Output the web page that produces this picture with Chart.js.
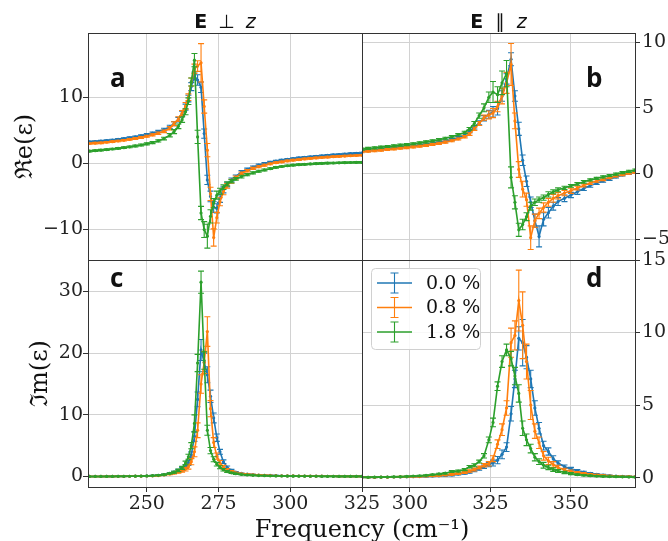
<!DOCTYPE html>
<html>
<head>
<meta charset="utf-8">
<script src="https://cdn.jsdelivr.net/npm/chart.js@4.4.1/dist/chart.umd.min.js"></script>
<style>
  body { margin: 0; background: #fff; }
  #wrap { position: relative; width: 668px; height: 541px; }
  canvas { position: absolute; left: 0; top: 0; }
</style>
</head>
<body>
<div id="wrap">
  <canvas id="panelA" width="668" height="541"></canvas>
  <canvas id="panelB" width="668" height="541"></canvas>
  <canvas id="panelC" width="668" height="541"></canvas>
  <canvas id="panelD" width="668" height="541"></canvas>
</div>
<script>
// ---- data: E perpendicular z (panels a, c) ----
const freqPerp = [230, 232, 234, 236, 238, 240, 242, 244, 246, 248, 250, 252, 254, 256, 258,
  259.5, 261, 262.3, 263.5, 264.5, 265.5, 266.6, 267.7, 268.9, 270, 271.1, 272.2, 273.3, 274.4, 275.5, 276.7, 278, 279.5, 281,
  283, 285, 287, 289, 291, 293, 295, 297, 299, 301, 303, 305, 307, 309, 311, 313, 315, 317, 319, 321, 323, 325];

const rePerp00 = [3.25, 3.3, 3.36, 3.44, 3.53, 3.63, 3.74, 3.87, 4.01, 4.17, 4.35, 4.56, 4.8, 5.1, 5.5,
  6.0, 6.6, 7.5, 8.5, 9.8, 11.6, 13.2, 12.6, 11.5, 4.5, -2.5, -5.0, -6.6, -6.8, -5.3, -4.0, -3.2, -2.5, -2.0,
  -1.3, -0.9, -0.55, -0.27, -0.03, 0.17, 0.34, 0.49, 0.62, 0.73, 0.83, 0.92, 1.0, 1.08, 1.15, 1.22, 1.28, 1.34, 1.4, 1.46, 1.51, 1.56];
const rePerp08 = [3.0, 3.05, 3.11, 3.19, 3.28, 3.38, 3.49, 3.62, 3.76, 3.92, 4.1, 4.31, 4.55, 4.85, 5.3,
  6.0, 6.7, 7.6, 8.7, 10.0, 12.3, 14.3, 14.7, 15.2, 8.6, 2.0, -4.6, -11.2, -8.2, -5.8, -4.3, -3.4, -2.7, -2.15,
  -1.5, -1.1, -0.77, -0.5, -0.27, -0.07, 0.1, 0.24, 0.37, 0.48, 0.58, 0.67, 0.75, 0.82, 0.89, 0.95, 1.01, 1.06, 1.11, 1.15, 1.19, 1.23];
const rePerp18 = [1.85, 1.92, 2.0, 2.08, 2.17, 2.27, 2.38, 2.5, 2.63, 2.78, 2.95, 3.15, 3.4, 3.75, 4.25,
  4.8, 5.6, 6.6, 7.8, 9.4, 12.3, 15.6, 4.0, -7.5, -10.0, -11.0, -8.0, -6.0, -4.8, -4.2, -3.6, -3.1, -2.7, -2.35,
  -2.0, -1.7, -1.43, -1.19, -0.99, -0.8, -0.6, -0.47, -0.36, -0.27, -0.2, -0.14, -0.09, -0.04, 0.0, 0.03, 0.06, 0.09, 0.11, 0.13, 0.14, 0.15];

const rePerpErr00 = [0.12, 0.12, 0.12, 0.12, 0.12, 0.12, 0.12, 0.13, 0.13, 0.14, 0.15, 0.16, 0.18, 0.2, 0.25,
  0.3, 0.35, 0.4, 0.45, 0.5, 0.6, 0.6, 0.8, 0.8, 0.7, 0.7, 0.8, 0.8, 0.7, 0.6, 0.45, 0.35, 0.3, 0.25,
  0.2, 0.18, 0.16, 0.15, 0.14, 0.13, 0.12, 0.12, 0.12, 0.12, 0.12, 0.12, 0.12, 0.12, 0.12, 0.12, 0.12, 0.12, 0.12, 0.12, 0.12, 0.12];
const rePerpErr08 = [0.12, 0.12, 0.12, 0.12, 0.12, 0.12, 0.12, 0.13, 0.13, 0.14, 0.15, 0.16, 0.18, 0.2, 0.25,
  0.3, 0.35, 0.4, 0.5, 0.5, 0.6, 0.7, 0.8, 2.9, 1.0, 1.0, 1.0, 1.3, 0.8, 0.6, 0.45, 0.35, 0.3, 0.25,
  0.2, 0.18, 0.16, 0.15, 0.14, 0.13, 0.12, 0.12, 0.12, 0.12, 0.12, 0.12, 0.12, 0.12, 0.12, 0.12, 0.12, 0.12, 0.12, 0.12, 0.12, 0.12];
const rePerpErr18 = [0.12, 0.12, 0.12, 0.12, 0.12, 0.12, 0.12, 0.13, 0.13, 0.14, 0.15, 0.16, 0.18, 0.2, 0.25,
  0.3, 0.35, 0.4, 0.45, 0.5, 0.6, 1.0, 1.0, 1.0, 1.2, 1.8, 1.0, 0.7, 0.6, 0.45, 0.35, 0.3, 0.25, 0.2,
  0.2, 0.18, 0.16, 0.15, 0.14, 0.13, 0.12, 0.12, 0.12, 0.12, 0.12, 0.12, 0.12, 0.12, 0.12, 0.12, 0.12, 0.12, 0.12, 0.12, 0.12, 0.12];

const imPerp00 = [0.01, 0.01, 0.01, 0.02, 0.02, 0.03, 0.03, 0.04, 0.05, 0.07, 0.09, 0.13, 0.2, 0.3, 0.5,
  0.7, 0.95, 1.2, 1.6, 2.2, 3.5, 6.5, 12.5, 20.5, 18.5, 16.5, 13.0, 9.5, 6.3, 4.0, 2.4, 1.5, 1.0, 0.7,
  0.5, 0.38, 0.3, 0.24, 0.2, 0.17, 0.14, 0.12, 0.1, 0.09, 0.08, 0.07, 0.06, 0.05, 0.05, 0.04, 0.04, 0.03, 0.03, 0.03, 0.02, 0.02];
const imPerp08 = [0.01, 0.01, 0.01, 0.02, 0.02, 0.03, 0.03, 0.04, 0.05, 0.06, 0.08, 0.11, 0.16, 0.25, 0.4,
  0.55, 0.75, 0.95, 1.2, 1.6, 2.4, 4.0, 7.5, 15.0, 18.5, 23.5, 11.0, 5.5, 3.3, 2.2, 1.5, 1.1, 0.8, 0.6,
  0.45, 0.35, 0.28, 0.22, 0.18, 0.15, 0.13, 0.11, 0.1, 0.09, 0.08, 0.07, 0.06, 0.05, 0.05, 0.04, 0.04, 0.03, 0.03, 0.03, 0.02, 0.02];
const imPerp18 = [0.01, 0.01, 0.01, 0.02, 0.02, 0.03, 0.03, 0.04, 0.05, 0.07, 0.09, 0.13, 0.2, 0.3, 0.5,
  0.7, 1.0, 1.4, 2.2, 3.2, 5.0, 8.6, 18.4, 31.5, 18.8, 7.5, 4.2, 2.8, 2.0, 1.5, 1.1, 0.8, 0.6, 0.45,
  0.33, 0.25, 0.2, 0.16, 0.13, 0.11, 0.09, 0.08, 0.07, 0.06, 0.05, 0.05, 0.04, 0.04, 0.03, 0.03, 0.03, 0.02, 0.02, 0.02, 0.02, 0.02];

const imPerpErr00 = [0.03, 0.03, 0.03, 0.03, 0.03, 0.03, 0.03, 0.03, 0.03, 0.04, 0.04, 0.05, 0.06, 0.08, 0.1,
  0.15, 0.2, 0.25, 0.3, 0.4, 0.5, 0.8, 1.2, 1.7, 1.5, 1.3, 1.0, 0.8, 0.6, 0.4, 0.3, 0.2, 0.15, 0.1,
  0.08, 0.07, 0.06, 0.05, 0.05, 0.05, 0.04, 0.04, 0.04, 0.04, 0.04, 0.04, 0.04, 0.04, 0.04, 0.04, 0.04, 0.04, 0.04, 0.04, 0.04, 0.04];
const imPerpErr08 = [0.03, 0.03, 0.03, 0.03, 0.03, 0.03, 0.03, 0.03, 0.03, 0.04, 0.04, 0.05, 0.06, 0.08, 0.1,
  0.15, 0.2, 0.25, 0.3, 0.4, 0.5, 0.8, 1.2, 1.5, 1.8, 2.4, 1.3, 0.8, 0.5, 0.4, 0.3, 0.2, 0.15, 0.1,
  0.08, 0.07, 0.06, 0.05, 0.05, 0.05, 0.04, 0.04, 0.04, 0.04, 0.04, 0.04, 0.04, 0.04, 0.04, 0.04, 0.04, 0.04, 0.04, 0.04, 0.04, 0.04];
const imPerpErr18 = [0.03, 0.03, 0.03, 0.03, 0.03, 0.03, 0.03, 0.03, 0.03, 0.04, 0.04, 0.05, 0.06, 0.08, 0.1,
  0.15, 0.2, 0.25, 0.3, 0.4, 0.5, 1.4, 1.4, 1.8, 1.4, 0.8, 0.5, 0.4, 0.3, 0.25, 0.2, 0.15, 0.1, 0.1,
  0.08, 0.07, 0.06, 0.05, 0.05, 0.05, 0.04, 0.04, 0.04, 0.04, 0.04, 0.04, 0.04, 0.04, 0.04, 0.04, 0.04, 0.04, 0.04, 0.04, 0.04, 0.04];

// ---- data: E parallel z (panels b, d) ----
const freqPar = [285, 287, 289, 291, 293, 295, 297, 299, 301, 303, 305, 307, 309, 311, 313, 315, 317,
  318.5, 320, 321.5, 323, 324.5, 325.8, 327.2, 328.6, 330, 331.4, 332.6, 333.8, 335, 336.2, 337.5, 338.8, 340.1, 341.5, 343,
  344.5, 346, 348, 350, 352, 354, 356, 358, 360, 362, 364, 366, 368, 370];

const rePar00 = [1.72, 1.76, 1.8, 1.85, 1.9, 1.95, 2.0, 2.05, 2.1, 2.16, 2.22, 2.3, 2.38, 2.47, 2.58, 2.72, 2.95,
  3.2, 3.5, 3.85, 4.2, 4.5, 4.7, 4.95, 5.9, 7.2, 8.7, 5.9, 3.4, 1.0, -0.6, -2.2, -3.6, -4.8, -3.5, -3.0,
  -2.5, -2.15, -1.9, -1.65, -1.4, -1.15, -0.93, -0.75, -0.58, -0.43, -0.27, -0.12, 0.0, 0.12];
const rePar08 = [1.65, 1.69, 1.73, 1.77, 1.82, 1.87, 1.92, 1.97, 2.02, 2.08, 2.14, 2.21, 2.29, 2.38, 2.49, 2.62, 2.8,
  3.0, 3.4, 3.8, 4.25, 4.45, 4.6, 5.1, 5.9, 6.9, 8.3, 4.0, 0.3, -1.2, -2.0, -4.9, -3.6, -3.05, -2.6, -2.2,
  -1.9, -1.7, -1.5, -1.32, -1.12, -0.92, -0.74, -0.58, -0.45, -0.33, -0.2, -0.09, 0.01, 0.1];
const rePar18 = [1.85, 1.9, 1.95, 2.0, 2.05, 2.1, 2.15, 2.2, 2.26, 2.33, 2.4, 2.48, 2.57, 2.68, 2.8, 2.95, 3.12,
  3.4, 3.8, 4.4, 5.0, 5.8, 6.2, 6.0, 6.9, 7.6, -0.3, -2.2, -4.3, -3.9, -3.3, -2.5, -2.2, -2.0, -1.85, -1.6,
  -1.4, -1.25, -1.1, -0.95, -0.8, -0.64, -0.5, -0.38, -0.27, -0.16, -0.05, 0.06, 0.16, 0.25];

const reParErr00 = [0.08, 0.08, 0.08, 0.08, 0.08, 0.08, 0.08, 0.08, 0.08, 0.08, 0.08, 0.08, 0.08, 0.08, 0.08, 0.08, 0.09,
  0.1, 0.12, 0.15, 0.2, 0.3, 0.4, 0.5, 0.4, 0.4, 0.5, 0.4, 0.5, 0.4, 0.4, 0.4, 0.5, 0.8, 0.5, 0.4,
  0.3, 0.3, 0.25, 0.2, 0.2, 0.15, 0.12, 0.1, 0.1, 0.1, 0.08, 0.08, 0.08, 0.08];
const reParErr08 = [0.08, 0.08, 0.08, 0.08, 0.08, 0.08, 0.08, 0.08, 0.08, 0.08, 0.08, 0.08, 0.08, 0.08, 0.08, 0.08, 0.09,
  0.1, 0.12, 0.15, 0.2, 0.3, 0.35, 0.4, 0.6, 0.8, 1.6, 0.6, 0.6, 0.6, 0.5, 0.9, 0.5, 0.4, 0.35, 0.3,
  0.3, 0.25, 0.2, 0.2, 0.15, 0.12, 0.1, 0.1, 0.1, 0.08, 0.08, 0.08, 0.08, 0.08];
const reParErr18 = [0.08, 0.08, 0.08, 0.08, 0.08, 0.08, 0.08, 0.08, 0.08, 0.08, 0.08, 0.08, 0.08, 0.08, 0.08, 0.08, 0.09,
  0.1, 0.15, 0.2, 0.3, 0.4, 0.8, 0.6, 0.9, 1.0, 0.8, 0.5, 0.5, 0.4, 0.3, 0.3, 0.25, 0.2, 0.2, 0.2,
  0.15, 0.15, 0.12, 0.1, 0.1, 0.1, 0.08, 0.08, 0.08, 0.08, 0.08, 0.08, 0.08, 0.08];

const imPar00 = [0.02, 0.02, 0.02, 0.03, 0.03, 0.04, 0.04, 0.05, 0.06, 0.07, 0.08, 0.1, 0.12, 0.15, 0.18, 0.24, 0.3,
  0.38, 0.5, 0.6, 0.75, 0.9, 1.0, 1.2, 1.6, 2.1, 4.4, 6.8, 9.6, 9.3, 8.3, 6.8, 4.8, 3.4, 2.2, 1.8,
  1.3, 1.0, 0.75, 0.6, 0.48, 0.37, 0.29, 0.22, 0.17, 0.13, 0.1, 0.08, 0.06, 0.05];
const imPar08 = [0.02, 0.02, 0.02, 0.03, 0.03, 0.04, 0.05, 0.06, 0.07, 0.08, 0.1, 0.12, 0.15, 0.18, 0.22, 0.28, 0.35,
  0.45, 0.55, 0.7, 0.85, 0.95, 1.3, 2.3, 3.3, 4.8, 9.3, 9.8, 12.2, 10.5, 8.0, 5.0, 3.2, 2.4, 1.5, 1.15,
  0.9, 0.7, 0.52, 0.42, 0.34, 0.27, 0.22, 0.17, 0.14, 0.11, 0.09, 0.07, 0.06, 0.05];
const imPar18 = [0.02, 0.02, 0.03, 0.03, 0.04, 0.05, 0.06, 0.08, 0.1, 0.12, 0.15, 0.2, 0.25, 0.3, 0.42, 0.45, 0.55,
  0.75, 0.85, 1.1, 1.5, 2.6, 3.8, 6.3, 8.0, 8.8, 8.2, 7.0, 5.8, 3.4, 2.6, 2.0, 1.4, 1.1, 0.85, 0.7,
  0.55, 0.45, 0.35, 0.27, 0.2, 0.16, 0.13, 0.1, 0.08, 0.07, 0.06, 0.05, 0.04, 0.03];

const imParErr00 = [0.03, 0.03, 0.03, 0.03, 0.03, 0.03, 0.03, 0.03, 0.03, 0.03, 0.04, 0.04, 0.05, 0.05, 0.06, 0.06, 0.07,
  0.08, 0.1, 0.1, 0.12, 0.15, 0.2, 0.25, 0.3, 0.3, 0.5, 0.6, 0.8, 1.6, 0.8, 0.6, 0.5, 0.4, 0.3, 0.25,
  0.2, 0.15, 0.12, 0.1, 0.08, 0.07, 0.06, 0.05, 0.05, 0.04, 0.04, 0.04, 0.04, 0.04];
const imParErr08 = [0.03, 0.03, 0.03, 0.03, 0.03, 0.03, 0.03, 0.03, 0.03, 0.03, 0.04, 0.04, 0.05, 0.05, 0.06, 0.06, 0.07,
  0.08, 0.1, 0.1, 0.12, 0.15, 0.2, 0.3, 0.4, 0.5, 1.0, 1.0, 2.1, 2.3, 1.2, 1.0, 0.5, 0.4, 0.3, 0.25,
  0.2, 0.15, 0.12, 0.1, 0.08, 0.07, 0.06, 0.05, 0.05, 0.04, 0.04, 0.04, 0.04, 0.04];
const imParErr18 = [0.03, 0.03, 0.03, 0.03, 0.03, 0.03, 0.03, 0.03, 0.03, 0.03, 0.04, 0.04, 0.05, 0.05, 0.06, 0.06, 0.07,
  0.08, 0.1, 0.1, 0.15, 0.2, 0.3, 0.3, 0.4, 0.4, 0.5, 0.6, 0.6, 0.5, 0.4, 0.3, 0.25, 0.2, 0.2, 0.15,
  0.12, 0.1, 0.08, 0.07, 0.06, 0.05, 0.05, 0.04, 0.04, 0.04, 0.04, 0.04, 0.04, 0.04];

const seriesNames = ["0.0 %", "0.8 %", "1.8 %"];
const colors = ["#1f77b4", "#ff7f0e", "#2ca02c"];

// tick values
const xTicksPerp = [250, 275, 300, 325];
const xTicksPar = [300, 325, 350];
const yTicksA = [-10, 0, 10];
const yTicksB = [-5, 0, 5, 10];
const yTicksC = [0, 10, 20, 30];
const yTicksD = [0, 5, 10, 15];

const W = 668, H = 541;
const tickFont = { family: "'DejaVu Serif', serif", size: 19 };
const gridColor = "#d2d2d2";
const fmt = (v) => String(v).replace("-", "\u2212");

// error bars drawn after each dataset, through the chart's scales
const errorBars = {
    id: "errorBars",
    afterDatasetDraw(chart, args) {
        const ds = chart.data.datasets[args.index];
        if (!ds.errors) return;
        const { ctx, chartArea: a, scales } = chart;
        ctx.save();
        ctx.beginPath();
        ctx.rect(a.left, a.top, a.right - a.left, a.bottom - a.top);
        ctx.clip();
        ctx.strokeStyle = ds.borderColor;
        ctx.lineWidth = 1.1;
        ctx.beginPath();
        ds.data.forEach((p, i) => {
            const e = ds.errors[i];
            const px = scales.x.getPixelForValue(p.x);
            const lo = scales.y.getPixelForValue(p.y - e);
            const hi = scales.y.getPixelForValue(p.y + e);
            ctx.moveTo(px, lo); ctx.lineTo(px, hi);
            ctx.moveTo(px - 3, lo); ctx.lineTo(px + 3, lo);
            ctx.moveTo(px - 3, hi); ctx.lineTo(px + 3, hi);
        });
        ctx.stroke();
        ctx.restore();
    },
};

function mathText(ctx, parts, cx, baseline) {
    let total = 0;
    parts.forEach((p) => { ctx.font = p[1]; p.w = ctx.measureText(p[0]).width; total += p.w + p[2]; });
    let x = cx - total / 2;
    ctx.textAlign = "left";
    ctx.textBaseline = "alphabetic";
    parts.forEach((p) => { ctx.font = p[1]; ctx.fillText(p[0], x, baseline); x += p.w + p[2]; });
}

function rotLabel(ctx, text, x, y) {
    ctx.save();
    ctx.translate(x, y);
    ctx.rotate(-Math.PI / 2);
    ctx.font = '24px "DejaVu Serif"';
    ctx.textAlign = "center";
    ctx.textBaseline = "middle";
    ctx.fillText(text, 0, 0);
    ctx.restore();
}

function letter(ctx, t, x, y) {
    ctx.font = 'bold 26px "Open Sans"';
    ctx.textAlign = "left";
    ctx.textBaseline = "alphabetic";
    ctx.fillText(t, x, y);
}

function framePlugin(decorate) {
    return {
        id: "frame",
        afterDraw(chart) {
            const { ctx, chartArea: a } = chart;
            ctx.save();
            ctx.strokeStyle = "#333";
            ctx.lineWidth = 1;
            ctx.strokeRect(Math.round(a.left) + 0.5, Math.round(a.top) + 0.5,
                Math.round(a.right - a.left), Math.round(a.bottom - a.top));
            ctx.fillStyle = "#111";
            decorate(ctx, a);
            ctx.restore();
        },
    };
}

function makePanel(id, p) {
    const yWidth = p.yPos === "left" ? 50 : 33;
    const xHeight = p.showX ? 54 : 0;
    const padding = {
        left: p.yPos === "left" ? p.box.l - yWidth : p.box.l,
        right: p.yPos === "right" ? W - p.box.r - yWidth : W - p.box.r,
        top: p.box.t,
        bottom: H - p.box.b - xHeight,
    };
    new Chart(document.getElementById(id), {
        type: "line",
        data: {
            datasets: p.series.map((s, i) => ({
                label: seriesNames[i],
                data: p.xs.map((x, j) => ({ x: x, y: s.y[j] })),
                errors: s.err,
                borderColor: colors[i],
                backgroundColor: colors[i],
                pointBackgroundColor: colors[i],
                borderWidth: 1.6,
                pointRadius: 1.6,
                pointBorderWidth: 0,
                pointHoverRadius: 0,
                tension: 0,
                order: 3 - i,
            })),
        },
        options: {
            responsive: false,
            animation: false,
            events: [],
            layout: { padding: padding },
            plugins: { legend: { display: false }, tooltip: { enabled: false } },
            scales: {
                x: {
                    type: "linear",
                    min: p.xMin,
                    max: p.xMax,
                    afterBuildTicks: (s) => { s.ticks = p.xTicks.map((v) => ({ value: v })); },
                    afterFit: (s) => { s.height = xHeight; s.paddingLeft = 0; s.paddingRight = 0; },
                    border: { display: false },
                    grid: { color: gridColor, drawTicks: p.showX, tickLength: 5, tickColor: "#333" },
                    ticks: { display: p.showX, font: tickFont, color: "#222", padding: 1, maxRotation: 0, autoSkip: false, callback: fmt },
                },
                y: {
                    type: "linear",
                    position: p.yPos,
                    min: p.yMin,
                    max: p.yMax,
                    afterBuildTicks: (s) => { s.ticks = p.yTicks.map((v) => ({ value: v })); },
                    afterFit: (s) => { s.width = yWidth; s.paddingTop = 0; s.paddingBottom = 0; },
                    border: { display: false },
                    grid: { color: gridColor, drawTicks: true, tickLength: 5, tickColor: "#333" },
                    ticks: { font: tickFont, color: "#222", padding: p.yPos === "left" ? 0 : 2, autoSkip: false, callback: fmt },
                },
            },
        },
        plugins: [errorBars, framePlugin(p.decorate)],
    });
}

// a: Re, E perp z
makePanel("panelA", {
    box: { l: 88, t: 33, r: 362, b: 260 },
    xs: freqPerp, xMin: 229.5, xMax: 325, xTicks: xTicksPerp,
    yMin: -14.6, yMax: 19.7, yTicks: yTicksA, yPos: "left", showX: false,
    series: [{ y: rePerp00, err: rePerpErr00 }, { y: rePerp08, err: rePerpErr08 }, { y: rePerp18, err: rePerpErr18 }],
    decorate: (ctx, a) => {
        mathText(ctx, [["E", 'bold 19px "DejaVu Sans"', 11], ["\u22A5", '19px "DejaVu Sans"', 11], ["z", 'italic 19px "DejaVu Sans"', 0]],
            (a.left + a.right) / 2, a.top - 5);
        letter(ctx, "a", a.left + 22, a.top + 54);
        rotLabel(ctx, "\u211Ce(\u03B5)", a.left - 62, (a.top + a.bottom) / 2);
    },
});

// b: Re, E parallel z
makePanel("panelB", {
    box: { l: 362, t: 33, r: 635, b: 260 },
    xs: freqPar, xMin: 285.1, xMax: 369.9, xTicks: xTicksPar,
    yMin: -6.6, yMax: 10.7, yTicks: yTicksB, yPos: "right", showX: false,
    series: [{ y: rePar00, err: reParErr00 }, { y: rePar08, err: reParErr08 }, { y: rePar18, err: reParErr18 }],
    decorate: (ctx, a) => {
        mathText(ctx, [["E", 'bold 19px "DejaVu Sans"', 12], ["\u2225", '19px "DejaVu Sans"', 12], ["z", 'italic 19px "DejaVu Sans"', 0]],
            (a.left + a.right) / 2, a.top - 5);
        letter(ctx, "b", a.right - 49, a.top + 54);
    },
});

// c: Im, E perp z
makePanel("panelC", {
    box: { l: 88, t: 260, r: 362, b: 487 },
    xs: freqPerp, xMin: 229.5, xMax: 325, xTicks: xTicksPerp,
    yMin: -1.7, yMax: 35.1, yTicks: yTicksC, yPos: "left", showX: true,
    series: [{ y: imPerp00, err: imPerpErr00 }, { y: imPerp08, err: imPerpErr08 }, { y: imPerp18, err: imPerpErr18 }],
    decorate: (ctx, a) => {
        letter(ctx, "c", a.left + 22, a.top + 27);
        rotLabel(ctx, "\u2111m(\u03B5)", a.left - 47, (a.top + a.bottom) / 2);
        ctx.font = '24px "DejaVu Serif"';
        ctx.textAlign = "center";
        ctx.textBaseline = "alphabetic";
        ctx.fillText("Frequency (cm\u207B\u00B9)", a.right, a.bottom + 50);
    },
});

// d: Im, E parallel z, with legend
makePanel("panelD", {
    box: { l: 362, t: 260, r: 635, b: 487 },
    xs: freqPar, xMin: 285.1, xMax: 369.9, xTicks: xTicksPar,
    yMin: -0.65, yMax: 15, yTicks: yTicksD, yPos: "right", showX: true,
    series: [{ y: imPar00, err: imParErr00 }, { y: imPar08, err: imParErr08 }, { y: imPar18, err: imParErr18 }],
    decorate: (ctx, a) => {
        letter(ctx, "d", a.right - 49, a.top + 27);
        const bx = a.left + 9, by = a.top + 8, bw = 109, bh = 81;
        ctx.beginPath();
        ctx.roundRect(bx + 0.5, by + 0.5, bw, bh, 4);
        ctx.fillStyle = "rgba(255,255,255,0.85)";
        ctx.fill();
        ctx.strokeStyle = "#d0d0d0";
        ctx.lineWidth = 1;
        ctx.stroke();
        seriesNames.forEach((name, i) => {
            const cy = by + 15 + i * 24.5;
            const x0 = a.left + 15, x1 = a.left + 50, xm = (x0 + x1) / 2;
            ctx.strokeStyle = colors[i];
            ctx.lineWidth = 1.6;
            ctx.beginPath();
            ctx.moveTo(x0, cy); ctx.lineTo(x1, cy);
            ctx.stroke();
            ctx.lineWidth = 1.1;
            ctx.beginPath();
            ctx.moveTo(xm, cy - 10); ctx.lineTo(xm, cy + 10);
            ctx.moveTo(xm - 4, cy - 10); ctx.lineTo(xm + 4, cy - 10);
            ctx.moveTo(xm - 4, cy + 10); ctx.lineTo(xm + 4, cy + 10);
            ctx.stroke();
            ctx.fillStyle = "#111";
            ctx.font = '19px "DejaVu Serif"';
            ctx.textAlign = "left";
            ctx.textBaseline = "middle";
            ctx.fillText(name, a.left + 64, cy + 1);
        });
    },
});
</script>
</body>
</html>
